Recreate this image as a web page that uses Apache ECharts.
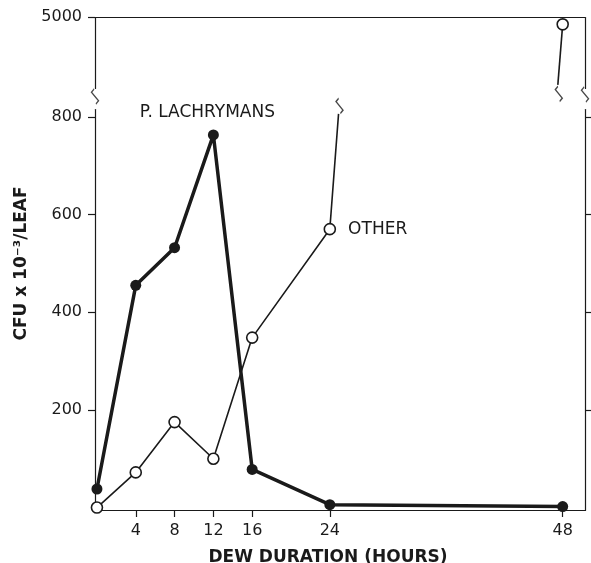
<!DOCTYPE html>
<html>
<head>
<meta charset="utf-8">
<script src="https://cdn.jsdelivr.net/npm/echarts@6/dist/echarts.min.js"></script>
<style>html,body{margin:0;background:#fff}#chart{width:591px;height:563px}</style>
</head>
<body>
<div id="chart"></div>
<script>
var hours = [0, 4, 8, 12, 16, 24, 48];
var lachrymans = [38, 455, 532, 763, 78, 6, 2];
var other = [0, 72, 175, 100, 348, 570, 4985];
var xTicks = [4, 8, 12, 16, 24, 48];
var yTicks = [200, 400, 600, 800, 5000];
// ends of the OTHER line on both sides of the break
var otherStubLow = [24.9, 806];
var otherStubHigh = [47.5, 4861];
// zigzag marks: left axis, right axis, then on the OTHER line
var axisZigzags = [[-0.2, 815], [50.3, 815]];
var lineZigzags = [[25.0, 806], [47.6, 4861]];

var ink = '#1a1a1a';
var font = 'DejaVu Sans';

function pairs(xs, ys, from, to) {
    var out = [];
    for (var i = from; i < to; i++) {
        out.push([xs[i], ys[i]]);
    }
    return out;
}

var lachData = pairs(hours, lachrymans, 0, hours.length);
lachData[3] = {
    value: lachData[3],
    label: {
        show: true, position: 'top', distance: 8, offset: [-6, 0],
        formatter: 'P. LACHRYMANS', color: ink, fontFamily: font, fontSize: 17
    }
};

var otherLow = pairs(hours, other, 0, 6);
otherLow[5] = {
    value: otherLow[5],
    label: {
        show: true, position: 'right', distance: 12,
        formatter: 'OTHER', color: ink, fontFamily: font, fontSize: 17
    }
};
otherLow.push({ value: otherStubLow, symbol: 'none' });
var otherHigh = [{ value: otherStubHigh, symbol: 'none' }, [hours[6], other[6]]];

var zigzagPath = 'path://M3,0 L0,3 L8,11 L5,14';
var zigzagData = [
    { value: axisZigzags[0], symbolOffset: [0, -13] },
    { value: axisZigzags[1], symbolOffset: [0, -15] },
    { value: lineZigzags[0], symbolOffset: [0, -8] },
    { value: lineZigzags[1], symbolOffset: [0, 9] }
];

var yBase = {
    type: 'value',
    min: -5,
    max: 5000,
    breaks: [{ start: 815, end: 4855, gap: '4.4%' }],
    breakArea: { show: false },
    splitLine: { show: false },
    axisLine: { show: true, onZero: false, lineStyle: { color: ink, width: 1.2 } },
    axisTick: { show: true, length: 7, customValues: yTicks, lineStyle: { color: ink, width: 1.2 } }
};

var option = {
    animation: false,
    grid: { left: 95, right: 6, top: 17, bottom: 53, outerBoundsMode: 'none', containLabel: false },
    xAxis: [{
        type: 'value',
        min: -0.2,
        max: 50.3,
        name: 'DEW DURATION (HOURS)',
        nameLocation: 'middle',
        nameGap: 39,
        nameTextStyle: { color: ink, fontFamily: font, fontSize: 17, fontWeight: 'bold', padding: [0, 24, 0, 0] },
        splitLine: { show: false },
        axisLine: { onZero: false, lineStyle: { color: ink, width: 1.2 } },
        axisTick: { length: 7, customValues: xTicks, lineStyle: { color: ink, width: 1.2 } },
        axisLabel: { customValues: xTicks, margin: 13, color: ink, fontFamily: font, fontSize: 16 }
    }, {
        type: 'value',
        position: 'top',
        min: -0.2,
        max: 50.3,
        splitLine: { show: false },
        axisLine: { onZero: false, lineStyle: { color: ink, width: 1.2 } },
        axisTick: { show: false },
        axisLabel: { show: false }
    }],
    yAxis: [
        Object.assign({}, yBase, {
            position: 'left',
            name: 'CFU x 10⁻³/LEAF',
            nameLocation: 'middle',
            nameRotate: 90,
            nameGap: 62,
            nameTextStyle: { color: ink, fontFamily: font, fontSize: 17, fontWeight: 'bold' },
            axisLabel: {
                customValues: yTicks, margin: 13, color: ink, fontFamily: font, fontSize: 16,
                formatter: function (v) { return String(v); }
            }
        }),
        Object.assign({}, yBase, {
            position: 'right',
            axisTick: { show: true, length: 7, customValues: [200, 400, 600, 800], lineStyle: { color: ink, width: 1.2 } },
            axisLabel: { show: false }
        })
    ],
    series: [
        {
            type: 'line',
            data: otherLow,
            symbol: 'circle',
            symbolSize: 11,
            lineStyle: { color: ink, width: 1.6 },
            itemStyle: { color: '#fff', borderColor: ink, borderWidth: 1.6 },
            z: 3
        },
        {
            type: 'line',
            data: otherHigh,
            symbol: 'circle',
            symbolSize: 11,
            clip: false,
            lineStyle: { color: ink, width: 1.6 },
            itemStyle: { color: '#fff', borderColor: ink, borderWidth: 1.6 },
            z: 3
        },
        {
            type: 'line',
            data: lachData,
            symbol: 'circle',
            symbolSize: 11,
            lineStyle: { color: ink, width: 3.5 },
            itemStyle: { color: ink },
            z: 4
        },
        {
            type: 'scatter',
            data: zigzagData,
            symbol: zigzagPath,
            symbolSize: [7, 15],
            clip: false,
            itemStyle: { color: 'none', borderColor: ink, borderWidth: 1.3 },
            silent: true,
            z: 6
        }
    ]
};

var myChart = echarts.init(document.getElementById('chart'));
myChart.setOption(option);
</script>
</body>
</html>
